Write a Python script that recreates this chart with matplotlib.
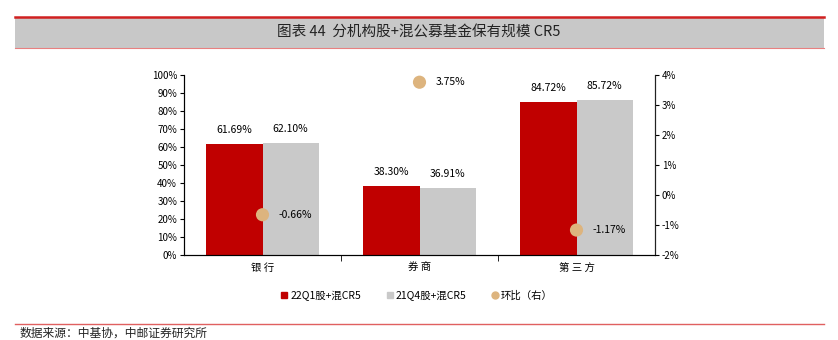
import numpy as np
import matplotlib
matplotlib.use('Agg')
import matplotlib.pyplot as plt
from matplotlib.patches import Rectangle
from matplotlib.lines import Line2D

plt.rcParams['font.family'] = ['Noto Sans CJK SC', 'DejaVu Sans']
plt.rcParams['axes.unicode_minus'] = False

categories = ['银行', '券商', '第三方']
cr5_22q1 = [61.69, 38.30, 84.72]
cr5_21q4 = [62.10, 36.91, 85.72]
qoq = [-0.66, 3.75, -1.17]
series_names = ['22Q1股+混CR5', '21Q4股+混CR5', '环比（右）']

red = '#C00000'
grey = '#C9C9C9'
tan = '#DDB47E'

fig = plt.figure(figsize=(8.38, 3.40), dpi=100)

# title band
fig.patches.append(Rectangle((15/838, 1-48/340), 809/838, 31/340, transform=fig.transFigure,
                             facecolor='#C8C8C8', edgecolor='none', zorder=0))
fig.lines.append(Line2D([15/838, 824/838], [1-17/340, 1-17/340], transform=fig.transFigure,
                        color='#D02020', lw=1.8))
fig.lines.append(Line2D([15/838, 824/838], [1-48/340, 1-48/340], transform=fig.transFigure,
                        color='#E88080', lw=0.8))
fig.text(0.5, 1-33/340, '图表 44  分机构股+混公募基金保有规模 CR5', ha='center', va='center',
         fontsize=10.5, color='#222222')

# bottom line and source
fig.lines.append(Line2D([15/838, 824/838], [1-324/340, 1-324/340], transform=fig.transFigure,
                        color='#E06060', lw=1.0))
fig.text(20/838, 1-333/340, '数据来源：中基协，中邮证券研究所', ha='left', va='center',
         fontsize=8.5, color='#222222')

ax = fig.add_axes([184/838, 1-255/340, 471/838, 180.3/340])
x = np.arange(len(categories))
w = 0.357
ax.bar(x - w/2, cr5_22q1, w, color=red, zorder=2, label=series_names[0])
ax.bar(x + w/2, cr5_21q4, w, color=grey, zorder=2, label=series_names[1])
for i in range(len(categories)):
    ax.text(x[i] - w/2, cr5_22q1[i] + 5, '%.2f%%' % cr5_22q1[i], ha='center', va='bottom', fontsize=7.5)
    ax.text(x[i] + w/2, cr5_21q4[i] + 5, '%.2f%%' % cr5_21q4[i], ha='center', va='bottom', fontsize=7.5)

ax.set_xlim(-0.5, 2.5)
ax.set_ylim(0, 100)
ax.set_yticks(np.arange(0, 101, 10))
ax.set_yticklabels(['%d%%' % v for v in range(0, 101, 10)], fontsize=7)
ax.set_xticks(x)
ax.set_xticklabels([' '.join(c) for c in categories], fontsize=7.5)
ax.set_xticks([0.5, 1.5], minor=True)
ax.tick_params(axis='x', which='major', length=0, pad=6)
ax.tick_params(axis='x', which='minor', length=4, direction='out')
ax.tick_params(axis='y', length=3, direction='out', pad=2)
ax.spines['top'].set_visible(False)
for s in ['left', 'bottom', 'right']:
    ax.spines[s].set_color('#222222')

ax2 = ax.twinx()
ax2.scatter(x, qoq, s=90, color=tan, zorder=3, label=series_names[2], edgecolors='none')
for i in range(len(categories)):
    ax2.text(x[i] + 0.1, qoq[i], '%.2f%%' % qoq[i], ha='left', va='center', fontsize=7.5)
ax2.set_ylim(-2, 4)
ax2.set_yticks(np.arange(-2, 5, 1))
ax2.set_yticklabels(['%d%%' % v for v in range(-2, 5)], fontsize=7)
ax2.tick_params(axis='y', length=3, direction='out', pad=2)
ax2.spines['top'].set_visible(False)
ax2.spines['right'].set_color('#222222')

handles = [Line2D([], [], marker='s', ls='none', color=red, markersize=5),
           Line2D([], [], marker='s', ls='none', color=grey, markersize=5),
           Line2D([], [], marker='o', ls='none', color=tan, markersize=5)]
fig.legend(handles, series_names, loc='center', bbox_to_anchor=(416/838, 1-296/340), ncol=3,
           frameon=False, fontsize=7.5, handletextpad=0.1, columnspacing=2.2, handlelength=1)

fig.savefig('out.png', dpi=100)
